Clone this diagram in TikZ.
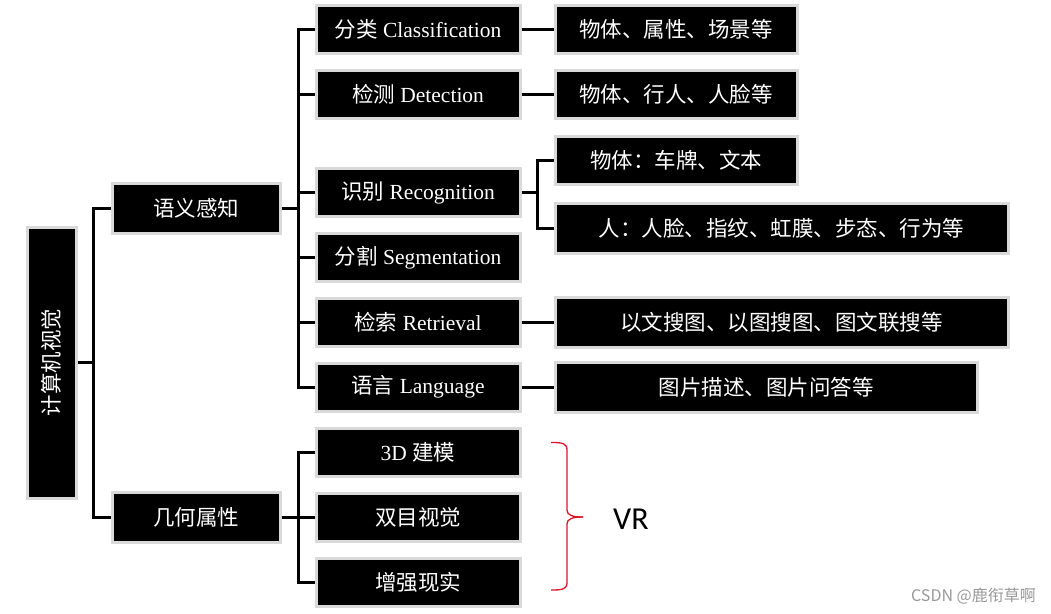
\documentclass[tikz,border=0pt]{standalone}
\usepackage{fontspec}
\setmainfont{Liberation Serif}
\newfontfamily\cjk{Noto Sans CJK SC}
\newfontfamily\vrfont{Carlito}
\begin{document}
\begin{tikzpicture}[x=1pt,y=-1pt,
  box/.style={fill=black, draw=black!15, line width=3pt, text=white, inner sep=0pt,
    font=\fontsize{21.5}{25}\selectfont},
  lvtwo/.style={box, minimum width=204pt, minimum height=48pt},
  lvthree/.style={box, minimum height=48pt},
  conn/.style={line width=3pt, black},
  bracecol/.style={line width=1.3pt, draw={rgb,255:red,220;green,20;blue,40}}]
\useasboundingbox (0,0) rectangle (1051,613);
% root
\node[box, minimum width=49pt, minimum height=271pt] (root) at (51.5,362.5) {};
\node[rotate=90, text=white, font=\fontsize{21.5}{25}\selectfont\cjk] (roottext) at (root.center) {计算机视觉};
% level 1
\node[box, minimum width=168pt, minimum height=50pt] (sem) at (196,208.5) {\cjk 语义感知};
\node[box, minimum width=168pt, minimum height=50pt] (geo) at (196,517) {\cjk 几何属性};
% level 2
\node[lvtwo] (cls) at (418,29.5) {{\cjk 分类} Classification};
\node[lvtwo] (det) at (418,94.5) {{\cjk 检测} Detection};
\node[lvtwo] (rec) at (418,192.5) {{\cjk 识别} Recognition};
\node[lvtwo] (seg) at (418,257.5) {{\cjk 分割} Segmentation};
\node[lvtwo] (ret) at (418,322.5) {{\cjk 检索} Retrieval};
\node[lvtwo] (lang) at (418,387) {{\cjk 语言} Language};
\node[lvtwo] (mod) at (418,452) {3D {\cjk 建模}};
\node[lvtwo] (bin) at (418,517) {\cjk 双目视觉};
\node[lvtwo] (ar) at (418,582) {\cjk 增强现实};
% level 3
\node[lvthree, minimum width=242pt] (clsd) at (676,29.5) {\cjk 物体、属性、场景等};
\node[lvthree, minimum width=242pt] (detd) at (676,94.5) {\cjk 物体、行人、人脸等};
\node[lvthree, minimum width=242pt] (reca) at (676,160) {\cjk 物体：车牌、文本};
\node[lvthree, minimum width=453pt, minimum height=50pt] (recb) at (781.5,228.5) {\cjk 人：人脸、指纹、虹膜、步态、行为等};
\node[lvthree, minimum width=453pt, minimum height=50pt] (retd) at (781.5,322.5) {\cjk 以文搜图、以图搜图、图文联搜等};
\node[lvthree, minimum width=422pt, minimum height=50pt] (langd) at (766,387) {\cjk 图片描述、图片问答等};
% connectors
\coordinate (j0) at (93,362.5);
\coordinate (j1) at (298,208.5);
\coordinate (j2) at (298,517);
\coordinate (j3) at (537,192.5);
\draw[conn] (root.east) -- (j0);
\draw[conn] (j0) |- (sem.west);
\draw[conn] (j0) |- (geo.west);
\draw[conn] (sem.east) -- (j1);
\foreach \n in {cls,det,rec,seg,ret,lang} \draw[conn] (j1) |- (\n.west);
\draw[conn] (geo.east) -- (j2);
\foreach \n in {mod,bin,ar} \draw[conn] (j2) |- (\n.west);
\draw[conn] (cls.east) -- (clsd.west);
\draw[conn] (det.east) -- (detd.west);
\draw[conn] (rec.east) -- (j3);
\draw[conn] (j3) |- (reca.west);
\draw[conn] (j3) |- (recb.west);
\draw[conn] (ret.east) -- (retd.west);
\draw[conn] (lang.east) -- (langd.west);
% brace
\coordinate (bt) at (551,442.5);
\coordinate (bb) at (551,590);
\coordinate (btip) at (583,517);
\draw[bracecol] (bt) .. controls (562,442.5) and (567,443) .. (567,450) -- (567,510)
  .. controls (567,515) and (572,517) .. (btip);
\draw[bracecol] (bb) .. controls (562,590) and (567,589.5) .. (567,582.5) -- (567,524)
  .. controls (567,519) and (572,517) .. (btip);
\node[font=\fontsize{32}{36}\selectfont\vrfont, anchor=west, inner sep=0pt] (vr) at (613,519) {VR};
\node[font=\fontsize{16}{18}\selectfont\cjk, text=black!40, anchor=east, inner sep=0pt] (wm) at (1036,596) {CSDN @鹿衔草啊};
\end{tikzpicture}
\end{document}
